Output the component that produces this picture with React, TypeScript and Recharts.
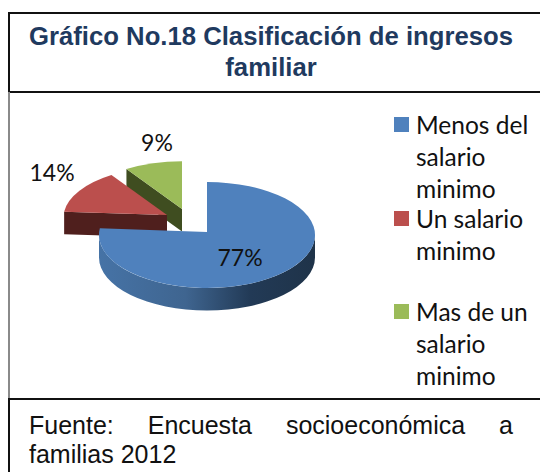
import { Legend, Pie, PieChart } from "recharts";

// drawn counterclockwise from 12 o'clock, so the blue slice paints last and overlaps the others
const CATEGORIES = ["Mas de un salario minimo", "Un salario minimo", "Menos del salario minimo"];
const VALUES = [9, 14, 77];
const TOP_COLORS = ["#9bbb59", "#bb4f4d", "#4f81bd"];
const WALL_COLORS = ["#3f4d20", "#4f1f1d", "url(#blueWall)"];

const data = CATEGORIES.map((name, i) => ({
  name,
  value: VALUES[i],
  fill: TOP_COLORS[i],
  wall: WALL_COLORS[i],
}));

const FLATTEN = 0.49;
const DEPTH = 22.5;
const APEX_LIFT = 3;
// slice pull-out and label offset from the pie centre, px
const EXPLODE: Record<string, [number, number]> = {
  "Mas de un salario minimo": [-25, -23],
  "Un salario minimo": [-40, -17],
  "Menos del salario minimo": [0, 0],
};
const LABEL_AT: Record<string, [number, number]> = {
  "Mas de un salario minimo": [-50, -93],
  "Un salario minimo": [-155, -63],
  "Menos del salario minimo": [33, 22],
};
// pulled-out slices sit further back, so they look a bit smaller
const SLICE_SCALE: Record<string, number> = {
  "Mas de un salario minimo": 0.96,
  "Un salario minimo": 0.96,
  "Menos del salario minimo": 1,
};

const TEXT_FONT = "Lato, sans-serif";
const ARIAL = '"Liberation Sans", Arial, sans-serif';

function Slice3D(props: any) {
  const { cx, cy, outerRadius, startAngle, endAngle, fill, name, payload } = props;
  const [ex, ey] = EXPLODE[name];
  const r = outerRadius * SLICE_SCALE[name];
  const ry = r * FLATTEN;
  const pt = (deg: number): [number, number] => {
    const a = (deg * Math.PI) / 180;
    return [cx + ex + r * Math.cos(a), cy + ey - ry * Math.sin(a)];
  };
  const apex: [number, number] = [cx + ex, cy + ey - APEX_LIFT];
  const [sx, sy] = pt(startAngle);
  const [tx, ty] = pt(endAngle);
  const large = endAngle - startAngle > 180 ? 1 : 0;
  const top = `M${apex[0]},${apex[1]} L${sx},${sy} A${r},${ry} 0 ${large} 0 ${tx},${ty} Z`;

  // cut face on the side of the larger angle
  const face = `M${apex[0]},${apex[1]} L${tx},${ty} L${tx},${ty + DEPTH} L${apex[0]},${apex[1] + DEPTH} Z`;

  // outer rim only faces the viewer on the lower half
  const from = Math.max(startAngle, 180);
  const to = Math.min(endAngle, 360);
  let rim = null;
  if (to > from) {
    const [ax, ay] = pt(from);
    const [bx, by] = pt(to);
    rim = (
      <path
        d={`M${ax},${ay} A${r},${ry} 0 0 0 ${bx},${by} L${bx},${by + DEPTH} A${r},${ry} 0 0 1 ${ax},${ay + DEPTH} Z`}
        fill={payload.wall}
      />
    );
  }

  return (
    <g>
      {to > from ? null : <path d={face} fill={payload.wall} />}
      {rim}
      <path d={top} fill={fill} />
    </g>
  );
}

function renderLabel(props: any) {
  const { cx, cy, name, value } = props;
  const [dx, dy] = LABEL_AT[name];
  return (
    <text
      x={cx + dx}
      y={cy + dy}
      textAnchor="middle"
      dominantBaseline="central"
      fill="#111"
      fontFamily={TEXT_FONT}
      fontSize={23}
    >
      {value}%
    </text>
  );
}

function LegendList({ payload }: any) {
  const items = [...(payload ?? [])].reverse();
  return (
    <div style={{ fontFamily: TEXT_FONT, fontSize: 24.5, lineHeight: "32px", color: "#111" }}>
      {items.map((it: any) => (
        <div key={it.value} style={{ position: "relative", height: 93.5, paddingLeft: 22 }}>
          <span
            style={{ position: "absolute", left: 0, top: 8, width: 15, height: 15, background: it.color }}
          />
          {it.value}
        </div>
      ))}
    </div>
  );
}

export default function App() {
  const rule = (top: number, color = "#111") => (
    <div style={{ position: "absolute", left: 8, right: 0, top, height: 2, background: color }} />
  );
  return (
    <div
      style={{
        position: "absolute",
        left: 0,
        top: 0,
        width: 540,
        height: 472,
        overflow: "hidden",
        background: "#fff",
      }}
    >
      <div style={{ position: "absolute", left: 0, top: 0 }}>
        <PieChart width={540} height={472} margin={{ top: 0, right: 0, bottom: 0, left: 0 }}>
          <defs>
            <linearGradient id="blueWall" x1="0" y1="0" x2="1" y2="0">
              <stop offset="0" stopColor="#4673a6" />
              <stop offset="0.4" stopColor="#3f6590" />
              <stop offset="0.7" stopColor="#223a56" />
              <stop offset="1" stopColor="#1f3349" />
            </linearGradient>
          </defs>
          <Pie
            data={data}
            dataKey="value"
            nameKey="name"
            cx={207}
            cy={235}
            outerRadius={108}
            startAngle={90}
            endAngle={450}
            stroke="none"
            shape={Slice3D}
            label={renderLabel}
            labelLine={false}
            isAnimationActive={false}
          />
          <Legend
            layout="vertical"
            itemSorter={null}
            content={<LegendList />}
            wrapperStyle={{ left: 394, top: 109, width: 140, bottom: "auto" }}
          />
        </PieChart>
      </div>

      {/* table frame round the chart */}
      {rule(12)}
      {rule(91)}
      {rule(398)}
      <div style={{ position: "absolute", left: 8, top: 12, width: 2, height: 80, background: "#111" }} />
      <div style={{ position: "absolute", left: 8, top: 92, width: 2, height: 306, background: "#8a8a8a" }} />
      <div style={{ position: "absolute", left: 8, top: 398, width: 2, height: 74, background: "#111" }} />

      <div
        style={{
          position: "absolute",
          left: 10,
          top: 21,
          width: 522,
          textAlign: "center",
          fontFamily: ARIAL,
          fontWeight: 700,
          fontSize: 25.7,
          lineHeight: "31px",
          color: "#1f3a5f",
        }}
      >
        Gráfico No.18 Clasificación de ingresos familiar
      </div>
      <div
        style={{
          position: "absolute",
          left: 29,
          top: 411,
          width: 484,
          textAlign: "justify",
          fontFamily: ARIAL,
          fontSize: 25,
          lineHeight: "29px",
          color: "#111",
        }}
      >
        Fuente: Encuesta socioeconómica a familias 2012
      </div>
    </div>
  );
}
